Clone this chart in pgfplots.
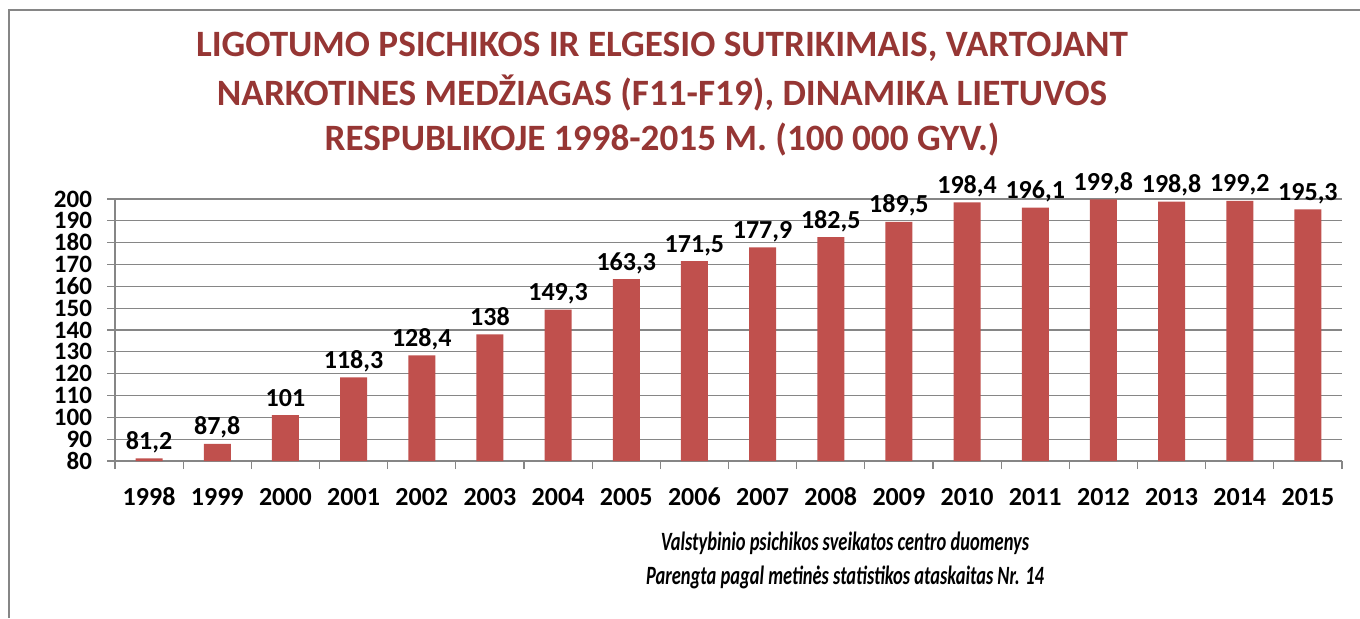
\documentclass[border=0pt]{standalone}
\usepackage{pgfplots}
\pgfplotsset{compat=1.18}
\usepackage{fontspec}
\setmainfont{Carlito}
\definecolor{barred}{RGB}{192,80,77}
\definecolor{titlered}{RGB}{150,54,52}
\definecolor{gridgray}{RGB}{134,134,134}

\pgfplotstableread{
idx year value
0  1998 81.2
1  1999 87.8
2  2000 101
3  2001 118.3
4  2002 128.4
5  2003 138
6  2004 149.3
7  2005 163.3
8  2006 171.5
9  2007 177.9
10 2008 182.5
11 2009 189.5
12 2010 198.4
13 2011 196.1
14 2012 199.8
15 2013 198.8
16 2014 199.2
17 2015 195.3
}\datatable

\begin{document}
\begin{tikzpicture}[x=1pt,y=1pt]
\path[use as bounding box] (0,0) rectangle (680,309);
% frame of the chart area (cropped at right and bottom)
\draw[gridgray,line width=1pt] (4.5,0) -- (4.5,304) -- (680,304);

\begin{axis}[
  at={(57.5pt,78.5pt)}, anchor=south west,
  scale only axis,
  width=613.5pt, height=131pt,
  xmin=-0.5, xmax=17.5,
  ymin=80, ymax=200,
  ytick={80,90,...,200},
  xtick={-0.5,0.5,...,17.5},
  xticklabels={},
  extra x ticks={0,1,...,17},
  extra x tick labels={1998,1999,2000,2001,2002,2003,2004,2005,2006,2007,2008,2009,2010,2011,2012,2013,2014,2015},
  extra x tick style={major tick length=0pt, grid=none},
  ymajorgrids,
  grid style={gridgray, line width=0.6pt},
  axis line style={gridgray, line width=0.6pt},
  tick style={gridgray, line width=0.6pt},
  tick align=outside,
  major tick length=4pt,
  axis x line*=bottom,
  axis y line*=left,
  tick label style={font=\fontsize{13}{15}\selectfont\bfseries, text height=8.5pt, text depth=0pt, inner ysep=0pt},
  yticklabel style={font=\fontsize{12.5}{14}\selectfont\bfseries, text height=8pt, xshift=-4pt},
  /pgf/number format/assume math mode=true,
  xticklabel style={yshift=-13.5pt},
  clip=false,
  nodes near coords={\pgfmathprintnumber[fixed,precision=1,use comma]{\pgfplotspointmeta}},
  nodes near coords style={font=\fontsize{13}{15}\selectfont\bfseries, black, text height=8.5pt, text depth=1.5pt, yshift=-0.5pt},
]
\addplot[ybar, bar width=13.5pt, bar shift=0pt, fill=barred, draw=none]
  table[x=idx,y=value] {\datatable};
\end{axis}

\begin{scope}[font=\fontsize{18.6}{22}\selectfont\bfseries, text=titlered]
\node at (331,285.5) {LIGOTUMO PSICHIKOS IR ELGESIO SUTRIKIMAIS, VARTOJANT};
\node at (331,262.5) {NARKOTINES MEDŽIAGAS (F11-F19), DINAMIKA LIETUVOS};
\node at (331,239) {RESPUBLIKOJE 1998-2015 M. (100 000 GYV.)};
\end{scope}

\begin{scope}[font=\fontsize{13.2}{15}\selectfont\bfseries\itshape]
\node at (422.5,37.5) {\scalebox{0.7}[1]{Valstybinio psichikos sveikatos centro duomenys}};
\node at (422.5,20.5) {\scalebox{0.7}[1]{Parengta pagal metinės statistikos ataskaitas Nr. 14}};
\end{scope}
\end{tikzpicture}
\end{document}
